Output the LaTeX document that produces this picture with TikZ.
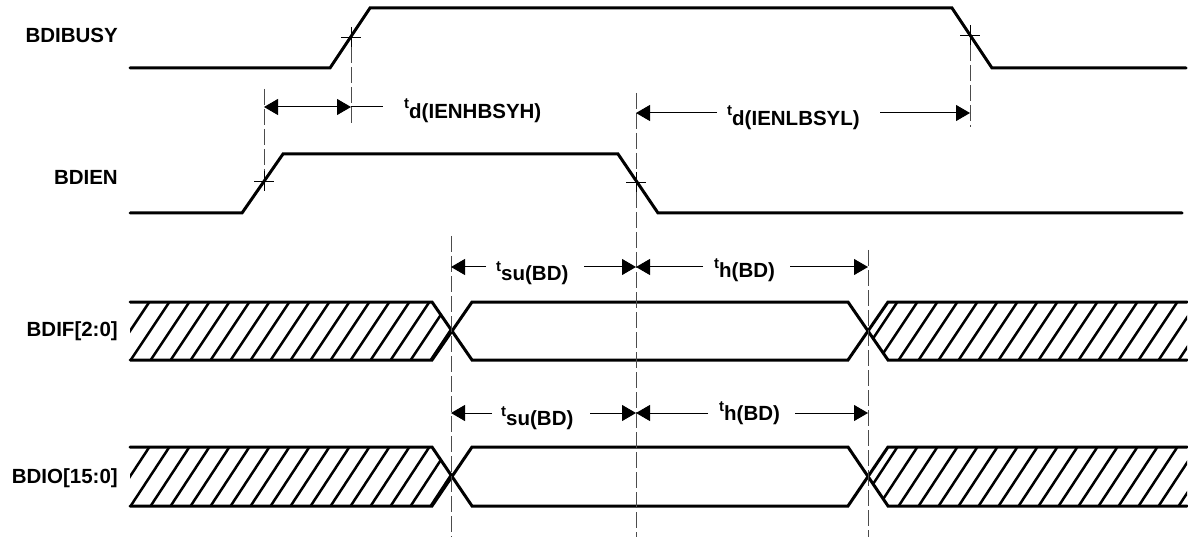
\documentclass[tikz,border=0pt]{standalone}
\usepackage{fontspec}
\setmainfont{Liberation Sans}
\usetikzlibrary{arrows.meta}
\newcommand\tlbl[2]{\raisebox{#1}{\fontsize{15}{15}\selectfont t}#2}
\begin{document}
\begin{tikzpicture}[x=1pt,y=-1pt,
  wave/.style={line width=3pt, line cap=round, line join=miter},
  hatchln/.style={line width=2.5pt},
  guide/.style={black!70, line width=1pt, dash pattern=on 16pt off 4pt},
  tickmark/.style={black, line width=0.9pt},
  dimline/.style={line width=1pt},
  tip/.tip={Triangle[length=14pt,width=16pt]},
  dimarrow/.style={line width=1pt, -tip},
  sig/.style={anchor=base east, inner sep=0pt, font=\bfseries\fontsize{20.5}{22}\selectfont},
  tlab/.style={anchor=base west, inner sep=0pt, font=\bfseries\fontsize{20.5}{22}\selectfont}]
\useasboundingbox (0,0) rectangle (1188,537);

% ---------- signal names
\node[sig] (nBusy) at (118,43)  {BDIBUSY};
\node[sig] (nEn)   at (118,185) {BDIEN};
\node[sig] (nIf)   at (118,336) {BDIF[2:0]};
\node[sig] (nIo)   at (118,483) {BDIO[15:0]};

% ---------- BDIBUSY
\draw[wave] (130,68) -- (330,68) -- (370,8) -- (952,8) -- (992,68) -- (1186,68);
% ---------- BDIEN
\draw[wave] (130,213) -- (242,213) -- (283,154) -- (618,154) -- (658,213) -- (1182,213);

% ---------- hatching BDIF / BDIO
\foreach \yt/\yb in {302/360, 447/506}{
  \pgfmathsetmacro\ym{(\yt+\yb)/2}
  \begin{scope}
    \clip (130,\yt) -- (432,\yt) -- (451,\ym) -- (432,\yb) -- (130,\yb) -- cycle;
    \foreach \i in {0,...,18} \draw[hatchln] (88+\i*20,\yb+4) -- ++(44,-\yb+\yt-8);
  \end{scope}
  \begin{scope}
    \clip (868,\ym) -- (888,\yt) -- (1187,\yt) -- (1187,\yb) -- (888,\yb) -- cycle;
    \foreach \i in {0,...,18} \draw[hatchln] (836+\i*20,\yb+4) -- ++(44,-\yb+\yt-8);
  \end{scope}
  \draw[wave] (130,\yt) -- (432,\yt) -- (472,\yb) -- (848,\yb) -- (888,\yt) -- (1187,\yt);
  \draw[wave] (130,\yb) -- (432,\yb) -- (472,\yt) -- (848,\yt) -- (888,\yb) -- (1187,\yb);
}

% ---------- guide lines and crossing marks
\coordinate (cBr) at (351,37);
\coordinate (cBf) at (970,35);
\coordinate (cEr) at (264,181);
\coordinate (cEf) at (636,182);
\foreach \c in {cBr,cBf,cEr,cEf}{
  \draw[tickmark] ([xshift=-10pt]\c) -- ([xshift=10pt]\c);
  \draw[tickmark] ([yshift=10pt]\c) -- ([yshift=-10pt]\c);
}
\draw[guide] (264,89) -- (264,171);
\draw[guide] (351,47) -- (351,124);
\draw[guide] (636,93) -- (636,172);
\draw[guide] (636,192) -- (636,537);
\draw[guide] (970,45) -- (970,127);
\draw[guide] (451,236) -- (451,537);
\draw[guide] (868,250) -- (868,537);

% ---------- t_d(IENHBSYH)
\coordinate (a1) at (264,107);
\coordinate (a2) at (351,107);
\coordinate (a3) at (383,107);
\draw[dimline, tip-tip] (a1) -- (a2);
\draw[dimline] (a2) -- (a3);
\node[tlab] (l1) at (404,119) {\tlbl{10pt}{d(IENHBSYH)}};

% ---------- t_d(IENLBSYL)
\coordinate (b1) at (717,113);
\coordinate (b2) at (636,113);
\coordinate (b3) at (880,113);
\coordinate (b4) at (970,113);
\draw[dimarrow] (b1) -- (b2);
\draw[dimarrow] (b3) -- (b4);
\node[tlab] (l2) at (727,126) {\tlbl{10pt}{d(IENLBSYL)}};

% ---------- t_su / t_h  BDIF
\coordinate (c1) at (486,267);
\coordinate (c2) at (451,267);
\coordinate (c3) at (584,267);
\coordinate (c4) at (636,267);
\coordinate (c5) at (703,267);
\coordinate (c6) at (790,267);
\coordinate (c7) at (868,267);
\draw[dimarrow] (c1) -- (c2);
\draw[dimarrow] (c3) -- (c4);
\draw[dimarrow] (c5) -- (c4);
\draw[dimarrow] (c6) -- (c7);
\node[tlab] (l3) at (496,280) {\tlbl{9pt}{su(BD)}};
\node[tlab] (l4) at (714,277) {\tlbl{9pt}{h(BD)}};

% ---------- t_su / t_h  BDIO
\coordinate (d1) at (492,413);
\coordinate (d2) at (451,413);
\coordinate (d3) at (590,413);
\coordinate (d4) at (636,413);
\coordinate (d5) at (708,413);
\coordinate (d6) at (795,413);
\coordinate (d7) at (868,413);
\draw[dimarrow] (d1) -- (d2);
\draw[dimarrow] (d3) -- (d4);
\draw[dimarrow] (d5) -- (d4);
\draw[dimarrow] (d6) -- (d7);
\node[tlab] (l5) at (501,425) {\tlbl{9pt}{su(BD)}};
\node[tlab] (l6) at (719,420) {\tlbl{9pt}{h(BD)}};
\end{tikzpicture}
\end{document}
